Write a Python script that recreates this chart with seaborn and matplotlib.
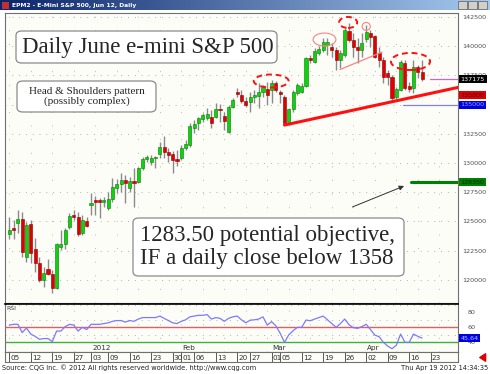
"""CQG-style daily candlestick chart of the June e-mini S&P 500 with an RSI pane."""

import matplotlib
matplotlib.use("Agg")
import matplotlib.pyplot as plt
import numpy as np
import seaborn as sns
from matplotlib.patches import Ellipse, FancyBboxPatch, FancyArrowPatch, Rectangle

sns.set_theme(style="white")
plt.rcParams["font.family"] = ["DejaVu Sans"]

# --- data (one bar per trading day, Dec 5 2011 .. Apr 19 2012) ---
opens = [1239.2, 1244.0, 1248.7, 1252.1, 1219.6, 1247.8, 1226.4, 1214.4, 1199.9, 1209.3,
         1205.0, 1193.0, 1228.1, 1230.7, 1245.2, 1255.5, 1253.8, 1240.1, 1250.4,
         1264.0, 1268.0, 1268.0, 1266.6, 1261.5, 1269.2, 1278.6, 1282.0, 1285.5, 1278.6, 1284.2,
         1283.8, 1295.8, 1303.5, 1300.9, 1303.9, 1307.7, 1313.7, 1309.4, 1307.7, 1303.5,
         1304.3, 1312.9, 1315.4, 1330.0, 1334.3, 1337.7, 1338.5, 1339.4, 1339.4, 1346.3,
         1340.3, 1326.6, 1348.0, 1360.4, 1358.2, 1353.1, 1352.2, 1356.5, 1357.4, 1360.8, 1363.4,
         1362.5, 1368.5, 1360.8, 1356.5, 1335.1, 1346.3, 1359.9, 1361.2, 1365.9, 1389.9,
         1386.5, 1394.2, 1396.8, 1401.0, 1399.3, 1396.8, 1388.2, 1392.5, 1413.0, 1405.3,
         1399.3, 1396.8,
         1406.2, 1411.3, 1408.7, 1394.2, 1388.2, 1377.1, 1373.6, 1356.5, 1362.5, 1385.6,
         1365.9, 1364.2, 1382.2, 1377.9]
highs = [1253.8, 1251.2, 1259.8, 1258.1, 1249.5, 1251.2, 1235.8, 1219.6, 1211.0, 1217.8,
         1208.4, 1231.5, 1242.7, 1244.4, 1257.2, 1259.8, 1258.1, 1255.5, 1253.8,
         1274.4, 1271.8, 1270.1, 1270.9, 1275.2, 1287.2, 1286.3, 1291.4, 1289.7, 1288.0, 1295.8,
         1296.6, 1305.2, 1306.9, 1306.9, 1306.0, 1318.0, 1323.1, 1312.9, 1310.3, 1311.2,
         1315.4, 1319.7, 1334.3, 1336.8, 1339.4, 1342.8, 1347.1, 1345.4, 1351.4, 1350.6,
         1343.7, 1349.7, 1355.7, 1364.2, 1362.5, 1356.5, 1360.8, 1362.5, 1368.5, 1366.8, 1369.4,
         1371.1, 1370.2, 1362.5, 1358.2, 1347.1, 1362.5, 1368.5, 1368.5, 1390.8, 1392.5,
         1398.5, 1400.2, 1407.0, 1407.0, 1402.7, 1399.3, 1396.8, 1415.6, 1419.9, 1411.3,
         1407.0, 1411.3,
         1418.2, 1413.9, 1409.6, 1399.3, 1390.8, 1379.6, 1375.3, 1365.1, 1388.2, 1388.2,
         1369.4, 1388.2, 1383.9, 1388.2]
lows = [1235.0, 1235.0, 1240.1, 1219.6, 1215.3, 1214.4, 1206.7, 1198.2, 1193.9, 1204.1,
        1188.8, 1192.2, 1225.6, 1226.4, 1243.5, 1251.2, 1237.5, 1238.4, 1245.2,
        1255.5, 1255.5, 1252.9, 1262.4, 1259.8, 1266.6, 1274.4, 1275.2, 1265.8, 1275.2, 1262.4,
        1282.9, 1294.0, 1300.9, 1298.3, 1295.8, 1304.3, 1304.3, 1300.9, 1291.4, 1297.5,
        1302.6, 1311.2, 1313.7, 1325.7, 1328.3, 1335.1, 1336.8, 1330.0, 1338.5, 1335.1,
        1328.3, 1325.7, 1347.1, 1356.5, 1351.4, 1348.0, 1343.7, 1351.4, 1347.1, 1356.5, 1349.7,
        1351.4, 1360.8, 1351.4, 1332.5, 1334.3, 1343.7, 1358.2, 1359.9, 1365.1, 1385.6,
        1385.6, 1392.5, 1395.0, 1392.5, 1390.8, 1379.6, 1381.4, 1390.8, 1403.6, 1390.8,
        1385.6, 1390.8,
        1403.6, 1399.3, 1389.9, 1382.2, 1368.5, 1366.8, 1352.2, 1354.8, 1361.6, 1362.5,
        1360.8, 1359.9, 1372.8, 1370.2]
closes = [1242.6, 1243.0, 1252.1, 1223.8, 1246.9, 1223.0, 1214.4, 1199.9, 1205.9, 1205.0,
          1193.0, 1230.7, 1230.7, 1242.7, 1254.7, 1253.8, 1239.2, 1251.2, 1246.1,
          1265.8, 1267.0, 1266.8, 1268.4, 1269.2, 1279.5, 1282.0, 1285.5, 1282.9, 1284.6, 1283.3,
          1295.8, 1303.5, 1305.2, 1304.3, 1304.7, 1313.7, 1309.4, 1306.9, 1302.6, 1301.8,
          1312.9, 1316.3, 1331.7, 1333.4, 1338.5, 1341.1, 1342.0, 1334.3, 1346.3, 1345.4,
          1336.0, 1348.0, 1354.0, 1359.5, 1353.1, 1349.7, 1356.5, 1357.8, 1360.8, 1365.1, 1358.2,
          1368.5, 1362.5, 1359.1, 1334.3, 1346.3, 1360.8, 1366.8, 1365.5, 1389.9, 1388.2,
          1395.9, 1397.6, 1403.6, 1403.6, 1396.8, 1388.2, 1394.2, 1413.9, 1405.3, 1399.3,
          1396.8, 1402.7,
          1412.2, 1407.9, 1390.8, 1388.2, 1373.6, 1373.6, 1355.7, 1363.4, 1386.5, 1364.2,
          1363.4, 1382.2, 1377.9, 1371.75]
rsi = [63, 64, 64, 53, 59, 51, 48, 44, 45, 45, 41, 55, 55, 61, 64, 63, 55, 60, 57,
       64, 64, 64, 65, 66, 68, 69, 69, 67, 69, 68, 71, 73, 73, 73, 73, 75, 72, 69, 66, 65,
       68, 70, 74, 75, 76, 76, 77, 71, 73, 72, 68, 72, 74, 75, 70, 66, 69.5, 70, 71, 74, 63,
       67.5, 62, 52, 40, 50, 55.5, 60, 60, 69.7, 68.8, 71, 73, 75, 70, 65, 60, 65, 71, 63.5,
       59.5, 58.6, 61,
       64, 57, 49.7, 47.5, 40, 35, 31.5, 36, 51, 40, 40, 51, 48, 45.64]

tick_bars = [0, 5, 10, 15, 19, 23, 28, 33, 38, 40, 43, 48, 53, 56, 61, 63, 68, 73, 78, 83, 88, 93, 98]
tick_days = ["05", "12", "19", "27", "03", "09", "16", "23", "30", "01", "06", "13", "20",
             "27", "01", "05", "12", "19", "26", "02", "09", "16", "23"]
month_bars = [19, 40, 61, 83]
month_names = ["2012", "Feb", "Mar", "Apr"]
price_ticks = [1200, 1225, 1250, 1275, 1300, 1325, 1350, 1375, 1400, 1425]
rsi_ticks = [80, 60, 40]

W, H = 490, 374
fig = plt.figure(figsize=(W / 100, H / 100), dpi=100, facecolor="white")


def px_axes(left, top, right, bottom, **kw):
    return fig.add_axes([left / W, 1 - bottom / H, (right - left) / W, (bottom - top) / H], **kw)


def px(x, y):
    """pixel (from top-left) -> figure fraction"""
    return x / W, 1 - y / H


BG = "#fdfdf8"
ax = px_axes(5, 13, 458, 303)
ax_r = px_axes(5, 304, 458, 352, sharex=ax)
ax_d = px_axes(5, 352, 458, 362, sharex=ax)
for a in (ax, ax_r, ax_d):
    a.set_facecolor(BG)
    for s in a.spines.values():
        s.set_color("#707070")
        s.set_linewidth(0.8)
ax_r.spines["top"].set_color("black")
ax_r.spines["top"].set_linewidth(1.2)

bars = np.arange(len(closes))
o = np.array(opens)
c = np.array(closes)
up = c >= o
bottom = np.minimum(o, c)
height = np.maximum(np.abs(c - o), 0.9)

ax.set_xlim(-1.0, 104.35)
ax.set_ylim(1180.2, 1428.4)

# dotted grid
for p in price_ticks:
    ax.axhline(p, color="#b0b0b0", lw=0.7, ls=(0, (1, 6)), zorder=0)
for b in range(0, 105, 5):
    ax.axvline(b, color="#b8b8b8", lw=0.7, ls=(0, (1, 13)), zorder=0)
    ax_r.axvline(b, color="#b8b8b8", lw=0.7, ls=(0, (1, 13)), zorder=0)

# candles
ax.vlines(bars, lows, highs, color="#8a8a8a", lw=1.0, zorder=2)
ax.bar(bars[up], height[up], bottom=bottom[up], width=0.72, color="#10d010",
       edgecolor="#008000", lw=0.4, zorder=3)
ax.bar(bars[~up], height[~up], bottom=bottom[~up], width=0.72, color="#e00000",
       edgecolor="#900000", lw=0.4, zorder=3)

# neckline and pattern marks
ax.plot([64, 104.35], [1332.5, 1364.7], color="#ff1010", lw=2.2, zorder=4)
ax.plot([76.9, 86.7], [1380.0, 1395.0], color="#ff8080", lw=0.9, zorder=4)
for cx, cy, w, h in [(60.9, 1370.2, 8.1, 11.1), (78.8, 1420.3, 4.2, 9.4), (93.3, 1386.9, 9.1, 14.6)]:
    ax.add_patch(Ellipse((cx, cy), w, h, fill=False, ec="#ff1010", lw=1.4, ls=(0, (3, 2)), zorder=5))
for cx, cy, w, h in [(73.3, 1405.7, 5.3, 11.1), (83.0, 1416.9, 1.9, 6.8)]:
    ax.add_patch(Ellipse((cx, cy), w, h, fill=False, ec="#ff8080", lw=0.8, zorder=5))

# horizontal level lines
ax.plot([97.8, 104.35], [1371.75, 1371.75], color="#cc66cc", lw=0.9, zorder=4)
ax.plot([91.6, 104.35], [1350, 1350], color="#8080ff", lw=0.9, zorder=4)
ax.plot([93.4, 104.35], [1283.5, 1283.5], color="#008000", lw=2.2, zorder=4)
ax.add_patch(FancyArrowPatch((79.2, 1261.5), (92.4, 1281.2), arrowstyle="-|>", mutation_scale=7,
                             color="#303030", lw=0.7, zorder=6))

# price axis on the right
ax.yaxis.tick_right()
ax.set_yticks(price_ticks)
ax.set_yticklabels([f"{p * 100:d}" for p in price_ticks])
ax.tick_params(axis="y", length=0, pad=3, labelsize=4.6, labelcolor="#505050")
ax.tick_params(axis="x", bottom=False, labelbottom=False)

trans = ax.get_yaxis_transform()
for val, txt, fc, tc in [(1371.75, "137175", "black", "white"), (1358, "135800", "#e00000", "#400000"),
                         (1350, "135000", "#0000e0", "#a0a0ff"), (1283.5, "128350", "#008000", "#002000")]:
    ax.text(1.006, val, txt, transform=trans, fontsize=4.6, color=tc, va="center", ha="left",
            bbox=dict(boxstyle="square,pad=0.25", fc=fc, ec="none"), zorder=7, clip_on=False)

# RSI pane
sns.lineplot(x=bars, y=rsi, ax=ax_r, color="#7a7aff", lw=0.9, zorder=3)
ax_r.axhline(60, color="#e06060", lw=1.0, zorder=2)
ax_r.axhline(40, color="#40b040", lw=1.0, zorder=2)
for p in [80, 60, 40]:
    ax_r.axhline(p + 10, color="#b0b0b0", lw=0.7, ls=(0, (1, 6)), zorder=0)
ax_r.set_ylim(27.1, 91.1)
ax_r.yaxis.tick_right()
ax_r.set_yticks(rsi_ticks)
ax_r.set_yticklabels([str(t) for t in rsi_ticks])
ax_r.tick_params(axis="y", length=0, pad=7, labelsize=4.6, labelcolor="#505050")
ax_r.tick_params(axis="x", bottom=False, labelbottom=False)
ax_r.text(0.004, 0.9, "RSI", transform=ax_r.transAxes, fontsize=4.5, color="#404040", va="center")
ax_r.text(1.006, 45.64, "45.64", transform=ax_r.get_yaxis_transform(), fontsize=4.6, color="#c0c0ff",
          va="center", ha="left", bbox=dict(boxstyle="square,pad=0.25", fc="#0000e0", ec="none"),
          clip_on=False)

# date row
ax_d.set_ylim(0, 1)
ax_d.set_yticks([])
ax_d.tick_params(axis="x", bottom=False, labelbottom=False)
for b, d in zip(tick_bars, tick_days):
    ax_d.plot([b, b], [0, 1], color="#404040", lw=0.6)
    ax_d.text(b + 0.25, 0.45, d, fontsize=5.2, color="#303030", va="center", ha="left")
for b, m in zip(month_bars, month_names):
    ax_r.text(b + 0.25, 28.5, m, fontsize=5.2, color="#303030", va="bottom", ha="left")

# title bar
tb = px_axes(0, 0, 490, 10)
grad = np.linspace(0, 1, 256)[None, :]
tb.imshow(grad, aspect="auto", cmap=matplotlib.colors.LinearSegmentedColormap.from_list(
    "win", ["#0a246a", "#a6caf0"]), extent=[0, 1, 0, 1])
tb.set_axis_off()
fig.text(*px(12, 5), "EPM2 - E-Mini S&P 500, Jun 12, Daily", fontsize=4.3, color="white",
         weight="bold", va="center")
fig.add_artist(Rectangle(px(2, 8.5), 7 / W, 7 / H, transform=fig.transFigure, fc="#c03030", ec="none"))
for i in range(3):
    fig.add_artist(Rectangle(px(458 + i * 10, 9), 9 / W, 8 / H, transform=fig.transFigure,
                             fc="#d4d0c8", ec="#404040", lw=0.4))

# annotation boxes
def note_box(l, t, r, b):
    x0, y1 = px(l, t)
    x1, y0 = px(r, b)
    fig.add_artist(FancyBboxPatch((x0, y0), x1 - x0, y1 - y0, boxstyle="round,pad=0,rounding_size=0.012",
                                  transform=fig.transFigure, fc="white", ec="#8a8a8a", lw=0.9, zorder=10))


note_box(16, 31, 277, 63)
fig.text(*px(22, 47), "Daily June e-mini S&P 500", fontsize=16.5, family="Liberation Serif",
         va="center", ha="left", zorder=11)
note_box(17, 81, 156, 112)
fig.text(*px(86.5, 96.5), "Head & Shoulders pattern\n(possibly complex)", fontsize=8,
         family="Liberation Serif", va="center", ha="center", linespacing=1.15, zorder=11)
note_box(133, 218, 404, 276)
fig.text(*px(140, 247), "1283.50 potential objective,\nIF a daily close below 1358", fontsize=16.5,
         family="Liberation Serif", va="center", ha="left", linespacing=1.1, zorder=11)

# footer
fig.text(*px(2, 368), "Source: CQG Inc. \u00a9 2012 All rights reserved worldwide. http://www.cqg.com",
         fontsize=4.8, color="#202020", va="center", ha="left")
fig.text(*px(488, 368), "Thu Apr 19 2012 14:34:35", fontsize=4.8, color="#202020", va="center", ha="right")
fig.add_artist(FancyArrowPatch(px(487, 357.5), px(477, 357.5), transform=fig.transFigure,
                               arrowstyle="simple,head_width=0.9,head_length=0.7,tail_width=0.4",
                               mutation_scale=6, color="#e00000"))

fig.savefig("out.png", dpi=100, facecolor=fig.get_facecolor())
